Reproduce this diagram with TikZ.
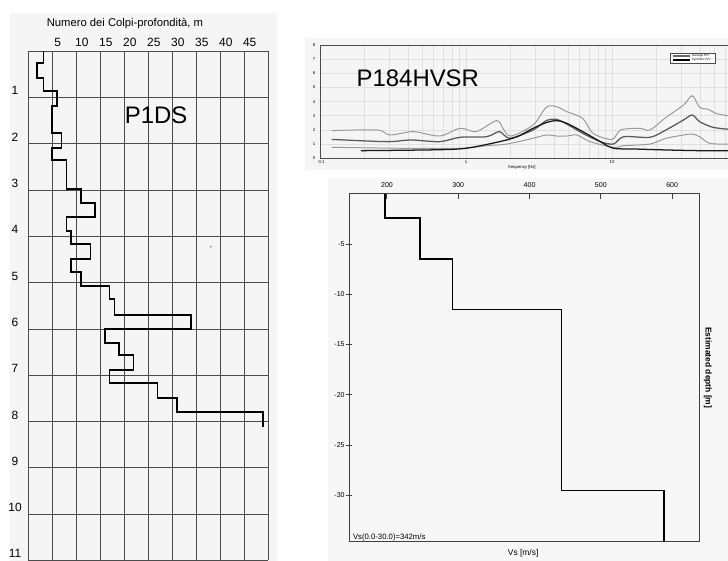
\documentclass[tikz,border=0pt]{standalone}
\usepackage{fontspec}
\setmainfont{Liberation Sans}
\newcommand{\fsz}[1]{\fontsize{#1}{#1}\selectfont}
\tikzset{
  gridln/.style={draw=black!70, line width=0.4pt},
  profile/.style={draw=black, line width=1.2pt},
  lbl/.style={font=\fsz{8.5}},
  hgrid/.style={draw=black!12, line width=0.3pt},
  hframe/.style={draw=black!70, line width=0.5pt},
  hlbl/.style={font=\fsz{3}},
  vframe/.style={draw=black!75, line width=0.7pt},
  vlbl/.style={font=\fsz{5}},
}
\begin{document}
\begin{tikzpicture}[line join=miter]
\useasboundingbox (0,0) rectangle (18.2,-14.025);
% sfondi
\fill[black!4] (0.25,-0.325) rectangle (6.925,-14.025);
\fill[black!4] (7.625,-0.95) rectangle (18.2,-4.25);
\fill[black!3] (8.2,-4.45) rectangle (18.2,-14.025);

% prova penetrometrica P1DS
\begin{scope}[shift={(0.7,-1.275)}, x=0.12cm, y=-1.1575cm]
  \foreach \v in {0,5,...,50} \draw[gridln] (\v,0) -- (\v,11);
  \foreach \d in {0,...,11} \draw[gridln] (0,\d) -- (50,\d);
  \foreach \v in {5,10,...,45} \node[lbl] (n\v) at (\v+1.2,-0.19) {\v};
  \foreach \d in {1,...,11} \node[lbl] (d\d) at (-2.7,\d-0.14) {\d};
  \node[font=\fsz{8}] (titolo) at (20.2,-0.6) {Numero dei Colpi-profondità, m};
  \node[font=\fsz{17}] (p1ds) at (26.7,1.38) {P1DS};
  \draw[profile] (3.2,0) -- (3.2,0.26) -- (1.9,0.26) -- (1.9,0.58) -- (3.2,0.58)
    -- (3.2,0.86) -- (6,0.86) -- (6,1.19) -- (5,1.19) -- (5,1.77) -- (7,1.77)
    -- (7,2.1) -- (5,2.1) -- (5,2.35) -- (8,2.35) -- (8,2.98) -- (11,2.98)
    -- (11,3.28) -- (14,3.28) -- (14,3.59) -- (8,3.59) -- (8,3.89) -- (9,3.89)
    -- (9,4.17) -- (13,4.17) -- (13,4.49) -- (9,4.49) -- (9,4.77) -- (11,4.77)
    -- (11,5.08) -- (17,5.08) -- (17,5.36) -- (18,5.36) -- (18,5.7) -- (34,5.7)
    -- (34,6) -- (16,6) -- (16,6.31) -- (19,6.31) -- (19,6.57) -- (22,6.57)
    -- (22,6.89) -- (17,6.89) -- (17,7.17) -- (27,7.17) -- (27,7.49) -- (31,7.49)
    -- (31,7.8) -- (49,7.8) -- (49,8.12);
  \fill (38.1,4.23) circle (0.5pt);
\end{scope}

% curva H/V
\begin{scope}[shift={(11.65,-3.95)}, x=3.65cm, y=0.3525cm]
  \begin{scope}
    \clip (-1.3,-1.5) rectangle (1.795,9);
    \foreach \e in {-1,0,1}
      \foreach \k in {2,...,9} \draw[hgrid] ({\e+log10(\k)},0) -- ({\e+log10(\k)},8);
    \foreach \e in {0,1} \draw[hgrid] (\e,0) -- (\e,8);
    \foreach \a in {1,...,7} \draw[hgrid] (-1,\a) -- (1.8,\a);
    \draw[hframe] (1.8,8) -- (-1,8) -- (-1,0) -- (1.8,0);
    \draw[black!40, line width=0.7pt] plot[smooth, tension=0.5] coordinates {
      (-0.92,1.94) (-0.61,1.99) (-0.52,1.63) (-0.36,1.87) (-0.18,1.56) (-0.04,2.11)
      (0.07,1.87) (0.21,2.65) (0.26,1.99) (0.31,1.56) (0.46,2.34) (0.55,3.60)
      (0.62,3.64) (0.69,3.29) (0.80,2.81) (0.87,1.75) (1.00,1.32) (1.06,1.99)
      (1.19,2.11) (1.26,1.99) (1.37,2.88) (1.49,3.76) (1.55,4.42) (1.60,3.60)
      (1.66,3.45) (1.71,3.17) (1.80,2.98)};
    \draw[black!40, line width=0.7pt] plot[smooth, tension=0.5] coordinates {
      (-0.92,0.76) (-0.45,0.69) (-0.04,0.69) (0.14,0.87) (0.28,0.99) (0.46,1.40)
      (0.55,1.63) (0.62,1.56) (0.69,1.56) (0.76,1.63) (0.85,1.16) (1.01,0.76)
      (1.08,0.87) (1.26,0.99) (1.37,1.40) (1.49,1.63) (1.55,1.70) (1.60,1.51)
      (1.67,1.04) (1.80,0.99)};
    \draw[black!65, line width=0.9pt] plot[smooth, tension=0.5] coordinates {
      (-0.92,1.32) (-0.54,1.16) (-0.38,1.28) (-0.18,1.16) (-0.04,1.47) (0.14,1.51)
      (0.23,1.87) (0.30,1.40) (0.46,1.99) (0.55,2.65) (0.62,2.74) (0.69,2.41)
      (0.80,1.75) (0.92,1.16) (1.01,0.99) (1.08,1.51) (1.26,1.47) (1.37,1.99)
      (1.49,2.70) (1.55,3.05) (1.60,2.58) (1.69,2.18) (1.80,2.04)};
    \draw[black!90, line width=0.9pt] plot[smooth, tension=0.5] coordinates {
      (-0.72,0.52) (-0.22,0.58) (0.00,0.69) (0.23,1.16) (0.35,1.51) (0.46,2.11)
      (0.55,2.51) (0.62,2.65) (0.69,2.46) (0.80,1.87) (0.92,1.16) (1.01,0.69)
      (1.15,0.64) (1.37,0.57) (1.60,0.52) (1.80,0.52)};
  \end{scope}
  \foreach \a in {0,...,8} \node[hlbl] (a\a) at (-1.04,\a) {\a};
  \node[hlbl] (f01) at (-0.99,-0.3) {0.1};
  \node[hlbl] (f1) at (0,-0.3) {1};
  \node[hlbl] (f10) at (1,-0.3) {10};
  \node[hlbl] (freq) at (0.384,-0.64) {frequency [Hz]};
  % legenda
  \draw[black!70, line width=0.4pt, fill=white] (1.397,6.74) rectangle (1.705,7.45);
  \draw[black!60, line width=0.8pt] (1.418,7.23) -- (1.534,7.23);
  \draw[black, line width=0.8pt] (1.418,6.95) -- (1.534,6.95);
  \node[font=\fsz{2.2}, anchor=west, inner sep=0pt] (lavg) at (1.545,7.23) {Average H/V};
  \node[font=\fsz{2.2}, anchor=west, inner sep=0pt] (lsyn) at (1.545,6.95) {Synthetic H/V};
  \node[font=\fsz{17}] (p184) at (-0.33,5.67) {P184HVSR};
\end{scope}

% profilo Vs
\begin{scope}[shift={(6.11,-4.8425)}, x=0.017825cm, y=0.2515cm]
  \draw[vframe] (147,0) rectangle (639,-34.6);
  \foreach \v in {200,300,...,600} {
    \draw[vframe] (\v,0) -- (\v,-0.5);
    \node[vlbl] (v\v) at (\v,0.9) {\v};
  }
  \foreach \z in {-5,-10,...,-30} {
    \draw[vframe] (143,\z) -- (151,\z);
    \node[vlbl, anchor=east, inner sep=1pt] (z\z) at (143,\z) {\z};
  }
  \draw[profile] (197,0) -- (197,-2.4) -- (246,-2.4) -- (246,-6.5) -- (292,-6.5)
    -- (292,-11.5) -- (445,-11.5) -- (445,-29.5) -- (589,-29.5) -- (589,-34.6);
  \node[font=\fsz{5.5}, anchor=west, inner sep=0pt] (vs30) at (152,-34.15) {Vs(0.0-30.0)=342m/s};
  \node[font=\fsz{6}] (vsax) at (391,-35.7) {Vs [m/s]};
  \node[font=\bfseries\fsz{6}, rotate=-90] (zax) at (650,-17.3) {Estimated depth [m]};
\end{scope}
\end{tikzpicture}
\end{document}
